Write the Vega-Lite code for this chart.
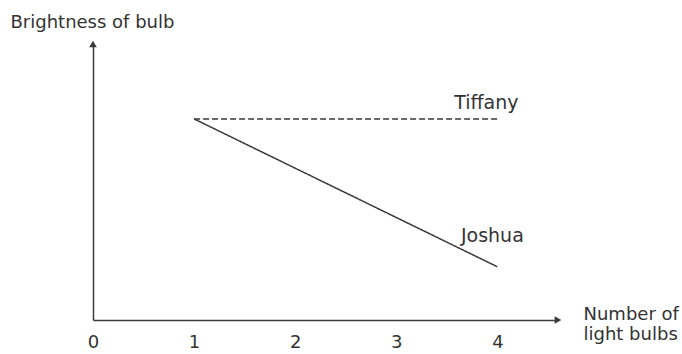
{
  "$schema": "https://vega.github.io/schema/vega-lite/v6.json",
  "autosize": "none",
  "width": 465,
  "height": 276,
  "padding": {"left": 93, "top": 44, "right": 124, "bottom": 34},
  "background": "white",
  "config": {
    "view": {"stroke": null},
    "font": "DejaVu Sans",
    "axis": {"grid": false, "ticks": false, "domainColor": "#3a3a3a", "domainWidth": 1.5, "labelColor": "#333333", "titleColor": "#333333", "labelFont": "DejaVu Sans", "titleFont": "DejaVu Sans", "titleFontWeight": "normal"}
  },
  "data": {
    "values": [
      {"person": "Tiffany", "bulbs": 1, "brightness": 10.2},
      {"person": "Tiffany", "bulbs": 4, "brightness": 10.2},
      {"person": "Joshua", "bulbs": 1, "brightness": 10.2},
      {"person": "Joshua", "bulbs": 4, "brightness": 2.7}
    ]
  },
  "layer": [
    {
      "mark": {"type": "line", "strokeWidth": 1.5, "color": "#3a3a3a"},
      "encoding": {
        "x": {
          "field": "bulbs", "type": "quantitative",
          "scale": {"domain": [0, 4.6], "nice": false, "zero": false},
          "axis": {
            "values": [0, 1, 2, 3, 4], "format": "d", "labelFontSize": 18, "labelPadding": 13, "labelFlush": false,
            "title": ["Number of", "light bulbs"], "titleFontSize": 18, "titleAlign": "left", "titleAnchor": null,
            "titleBaseline": "alphabetic", "titleX": 490, "titleY": -1, "titleLineHeight": 20, "titleAngle": 0
          }
        },
        "y": {
          "field": "brightness", "type": "quantitative",
          "scale": {"domain": [0, 14], "nice": false},
          "axis": {
            "labels": false, "title": "Brightness of bulb", "titleFontSize": 18, "titleAngle": 0,
            "titleAlign": "left", "titleBaseline": "alphabetic", "titleX": -83, "titleY": -17
          }
        },
        "detail": {"field": "person"},
        "strokeDash": {
          "field": "person", "type": "nominal",
          "scale": {"domain": ["Tiffany", "Joshua"], "range": [[6, 3], [1, 0]]},
          "legend": null
        }
      }
    },
    {
      "transform": [{"filter": "datum.person === 'Tiffany' && datum.bulbs === 4"}],
      "mark": {"type": "text", "fontSize": 19, "color": "#333333", "dx": -11, "dy": -16, "align": "center", "baseline": "middle"},
      "encoding": {
        "x": {"field": "bulbs", "type": "quantitative"},
        "y": {"field": "brightness", "type": "quantitative"},
        "text": {"field": "person"}
      }
    },
    {
      "transform": [{"filter": "datum.person === 'Joshua' && datum.bulbs === 4"}],
      "mark": {"type": "text", "fontSize": 19, "color": "#333333", "dx": -5, "dy": -31, "align": "center", "baseline": "middle"},
      "encoding": {
        "x": {"field": "bulbs", "type": "quantitative"},
        "y": {"field": "brightness", "type": "quantitative"},
        "text": {"field": "person"}
      }
    },
    {
      "data": {"values": [{}]},
      "mark": {"type": "point", "shape": "triangle-right", "filled": true, "size": 60, "color": "#3a3a3a", "opacity": 1},
      "encoding": {
        "x": {"datum": 4.6, "type": "quantitative"},
        "y": {"datum": 0, "type": "quantitative"}
      }
    },
    {
      "data": {"values": [{}]},
      "mark": {"type": "point", "shape": "triangle-up", "filled": true, "size": 60, "color": "#3a3a3a", "opacity": 1},
      "encoding": {
        "x": {"datum": 0, "type": "quantitative"},
        "y": {"datum": 14, "type": "quantitative"}
      }
    }
  ]
}
